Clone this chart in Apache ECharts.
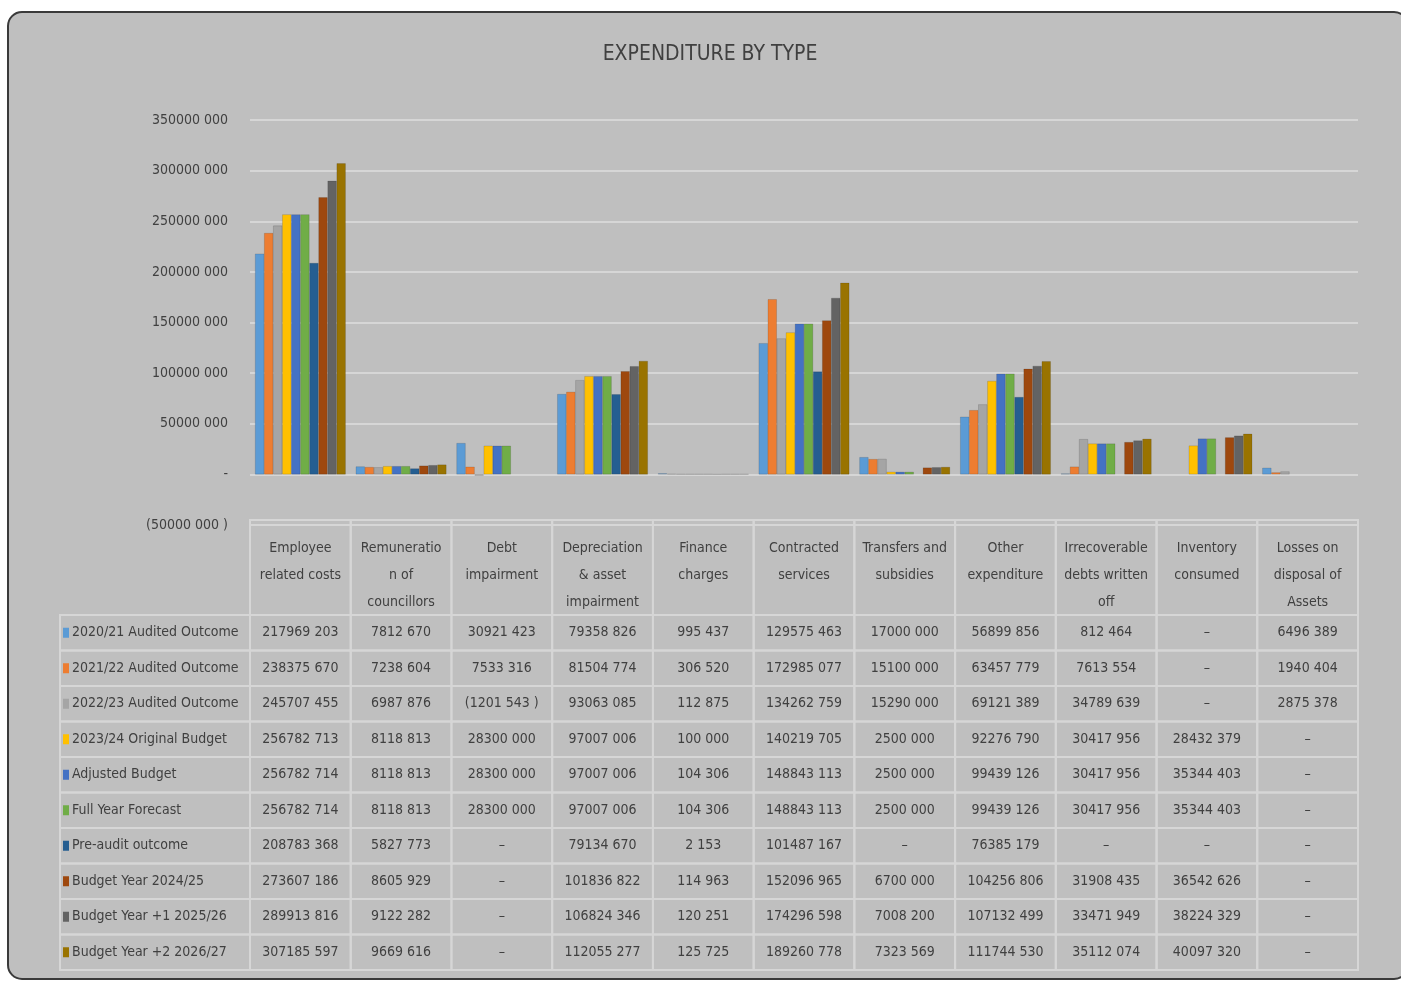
<!DOCTYPE html>
<html>
<head>
<meta charset="utf-8">
<title>Expenditure by type</title>
<script src="https://cdn.jsdelivr.net/npm/echarts@6/dist/echarts.min.js"></script>
<style>
  html, body { margin: 0; padding: 0; background: #ffffff; }
  #main { width: 1401px; height: 982px; }
</style>
</head>
<body>
<div id="main"></div>
<script>
// categories along the x axis
const categories = ['Employee related costs', 'Remuneration of councillors', 'Debt impairment',
  'Depreciation & asset impairment', 'Finance charges', 'Contracted services', 'Transfers and subsidies',
  'Other expenditure', 'Irrecoverable debts written off', 'Inventory consumed', 'Losses on disposal of Assets']
// header text as wrapped in the table
const categoryLabels = ['Employee\nrelated costs', 'Remuneratio\nn of\ncouncillors', 'Debt\nimpairment',
  'Depreciation\n& asset\nimpairment', 'Finance\ncharges', 'Contracted\nservices', 'Transfers and\nsubsidies',
  'Other\nexpenditure', 'Irrecoverable\ndebts written\noff', 'Inventory\nconsumed', 'Losses on\ndisposal of\nAssets']

const seriesNames = ['2020/21 Audited Outcome', '2021/22 Audited Outcome', '2022/23 Audited Outcome',
  '2023/24 Original Budget', 'Adjusted Budget', 'Full Year Forecast', 'Pre-audit outcome',
  'Budget Year 2024/25', 'Budget Year +1 2025/26', 'Budget Year +2 2026/27']
const seriesColors = ['#5B9BD5', '#ED7D31', '#A5A5A5', '#FFC000', '#4472C4', '#70AD47',
  '#255E91', '#9E480E', '#636363', '#997300']

// null = "–" in the table
const audited2021 = [217969203, 7812670, 30921423, 79358826, 995437, 129575463, 17000000, 56899856, 812464, null, 6496389]
const audited2122 = [238375670, 7238604, 7533316, 81504774, 306520, 172985077, 15100000, 63457779, 7613554, null, 1940404]
const audited2223 = [245707455, 6987876, -1201543, 93063085, 112875, 134262759, 15290000, 69121389, 34789639, null, 2875378]
const original2324 = [256782713, 8118813, 28300000, 97007006, 100000, 140219705, 2500000, 92276790, 30417956, 28432379, null]
const adjusted = [256782714, 8118813, 28300000, 97007006, 104306, 148843113, 2500000, 99439126, 30417956, 35344403, null]
const fullYear = [256782714, 8118813, 28300000, 97007006, 104306, 148843113, 2500000, 99439126, 30417956, 35344403, null]
const preAudit = [208783368, 5827773, null, 79134670, 2153, 101487167, null, 76385179, null, null, null]
const budget2425 = [273607186, 8605929, null, 101836822, 114963, 152096965, 6700000, 104256806, 31908435, 36542626, null]
const budget2526 = [289913816, 9122282, null, 106824346, 120251, 174296598, 7008200, 107132499, 33471949, 38224329, null]
const budget2627 = [307185597, 9669616, null, 112055277, 125725, 189260778, 7323569, 111744530, 35112074, 40097320, null]

const rows = [audited2021, audited2122, audited2223, original2324, adjusted, fullYear, preAudit,
  budget2425, budget2526, budget2627]

const yMin = -50000000, yMax = 350000000, yStep = 50000000

// layout
const FONT = '"Liberation Sans Narrow", "DejaVu Sans Condensed", "Roboto", sans-serif'
const FS = 14
const TXT = '#404040'
const BG = '#bfbfbf'
const LINE = '#d6d6d6'
const PLOT_L = 250, PLOT_R = 1358
const TABLE_TOP = 615, ROW_H = 35.5
const HEAD_TOP = 520

function fmt(v) {
  if (v == null || v === 0) return '–'
  if (v < 0) return '(' + fmt(-v) + ' )'
  let s = String(v)
  if (s.length > 3) s = s.slice(0, -3) + ' ' + s.slice(-3)
  return s
}

const rich = {}
seriesColors.forEach((c, i) => {
  rich['c' + i] = { width: 6, height: 10, backgroundColor: c }
  rich['t' + i] = { fontFamily: FONT, fontSize: FS, color: TXT, padding: [0, 0, 0, 3] }
})

const cells = []
for (let j = 0; j < rows.length; j++) {
  for (let i = 0; i < categories.length; i++) cells.push([i, j])
}

const colW = (PLOT_R - PLOT_L) / categories.length
const graphics = [
  { type: 'rect', z: -10, shape: { x: 8, y: 12, width: 1400, height: 967, r: 14 },
    style: { fill: BG, stroke: '#3a3a3a', lineWidth: 2 } },
  { type: 'text', x: 710, y: 55,
    style: { text: 'EXPENDITURE BY TYPE', font: '21px ' + FONT, fill: TXT, align: 'center', verticalAlign: 'middle' } }
]
// header row cells
for (let i = 0; i < categories.length; i++) {
  graphics.push({ type: 'rect', z: -5, shape: { x: PLOT_L + i * colW, y: HEAD_TOP, width: colW, height: TABLE_TOP - HEAD_TOP },
    style: { fill: 'none', stroke: LINE, lineWidth: 2 } })
}
// legend column cells
for (let j = 0; j < rows.length; j++) {
  graphics.push({ type: 'rect', z: -5, shape: { x: 60, y: TABLE_TOP + j * ROW_H, width: PLOT_L - 60, height: ROW_H },
    style: { fill: 'none', stroke: LINE, lineWidth: 2 } })
}

var myChart = echarts.init(document.getElementById('main'))

var option = {
  backgroundColor: '#ffffff',
  animation: false,
  textStyle: { fontFamily: FONT },
  graphic: graphics,
  grid: [
    { left: PLOT_L, right: 1401 - PLOT_R, top: 120, bottom: 982 - 525 },
    { left: PLOT_L, right: 1401 - PLOT_R, top: TABLE_TOP, height: ROW_H * rows.length }
  ],
  xAxis: [
    {
      type: 'category', gridIndex: 0, data: categories,
      axisLine: { show: false }, axisTick: { show: false },
      axisLabel: {
        interval: 0, margin: 10, color: TXT, fontSize: FS, lineHeight: 27, fontFamily: FONT,
        formatter: (v, i) => categoryLabels[i]
      }
    },
    {
      type: 'category', gridIndex: 1, data: categories,
      axisLine: { show: false }, axisTick: { show: false }, axisLabel: { show: false }
    }
  ],
  yAxis: [
    {
      type: 'value', gridIndex: 0, min: yMin, max: yMax, interval: yStep,
      axisLabel: { margin: 22, color: TXT, fontSize: FS, fontFamily: FONT, formatter: v => v === 0 ? '-' : fmt(v) },
      splitLine: { lineStyle: { color: LINE, width: 2 } }
    },
    {
      type: 'category', gridIndex: 1, data: seriesNames, inverse: true,
      axisLine: { show: false }, axisTick: { show: false },
      axisLabel: {
        align: 'left', margin: PLOT_L - 63, rich: rich,
        formatter: (v, i) => '{c' + i + '|}{t' + i + '|' + v + '}'
      }
    }
  ],
  series: rows.map((arr, k) => ({
    name: seriesNames[k],
    type: 'bar',
    xAxisIndex: 0, yAxisIndex: 0,
    data: arr,
    barGap: '0%',
    barCategoryGap: '10%',
    itemStyle: { color: seriesColors[k], borderColor: 'rgba(0,0,0,0.25)', borderWidth: 0.5 }
  })).concat([{
    type: 'custom',
    xAxisIndex: 1, yAxisIndex: 1,
    data: cells,
    renderItem: (params, api) => {
      const i = api.value(0), j = api.value(1)
      const c = api.coord([i, j])
      const s = api.size([1, 1])
      return {
        type: 'group',
        children: [
          { type: 'rect', shape: { x: c[0] - s[0] / 2, y: c[1] - s[1] / 2, width: s[0], height: s[1] },
            style: { fill: 'none', stroke: LINE, lineWidth: 2 } },
          { type: 'text', style: { x: c[0], y: c[1], text: fmt(rows[j][i]), align: 'center', verticalAlign: 'middle',
            font: FS + 'px ' + FONT, fill: TXT } }
        ]
      }
    }
  }])
}

myChart.setOption(option)
</script>
</body>
</html>
